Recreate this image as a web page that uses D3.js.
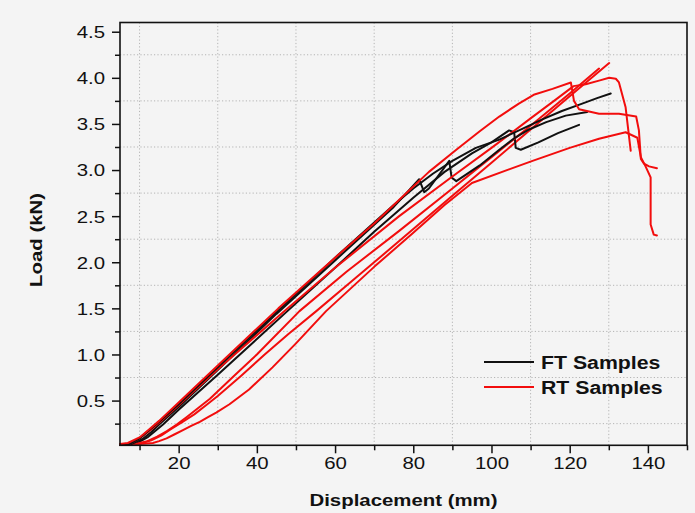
<!DOCTYPE html>
<html>
<head>
<meta charset="utf-8">
<script src="https://cdn.jsdelivr.net/npm/d3@7"></script>
<style>
  html, body { margin: 0; padding: 0; background: #f4f4f4; }
  svg { display: block; }
  text { font-family: "Liberation Sans", Arial, sans-serif; fill: #111; }
</style>
</head>
<body>
<svg id="chart" width="695" height="513"></svg>
<script>
// ---------- data (displacement mm, load kN) ----------
const ftSample1 = [[5,0.02],[7.5,0.03],[10,0.09],[12.5,0.18],[15,0.27],[20,0.46],[30,0.86],[45.3,1.47],[60,2.05],[75,2.62],[80,2.8],[85,2.96],[90,3.1],[96,3.24],[102,3.33],[108,3.45],[113,3.55],[118,3.64],[123.2,3.72],[127,3.78],[130.5,3.83]];
const ftSample2 = [[5,0.02],[8,0.03],[11,0.09],[13,0.16],[15,0.24],[20,0.43],[30,0.83],[45,1.44],[60,2.02],[75,2.6],[81.5,2.9],[82.8,2.76],[84,2.8],[89.2,3.1],[89.8,2.92],[91,2.88],[97,3.05],[102,3.22],[106,3.35],[109.6,3.44],[114,3.52],[119,3.59],[124.5,3.63]];
const ftSample3 = [[5,0.02],[9,0.03],[12,0.1],[14,0.17],[16,0.24],[20,0.4],[30,0.78],[47.8,1.47],[60,1.94],[70,2.33],[80,2.7],[88,2.98],[95,3.18],[100,3.3],[104.5,3.43],[105.8,3.41],[106.2,3.24],[107.5,3.22],[112,3.3],[117,3.4],[122.4,3.49]];

const rtSample1 = [[5,0.02],[10,0.03],[13,0.07],[15.5,0.12],[18,0.19],[21,0.27],[24,0.35],[27,0.45],[30,0.55],[36,0.77],[42,1.0],[48,1.22],[55.2,1.47],[65,1.82],[76.4,2.23],[90,2.72],[100,3.08],[110,3.44],[120,3.8],[130.1,4.16]];
const rtSample2 = [[5,0.02],[9,0.03],[12,0.06],[14.5,0.11],[17,0.17],[19.5,0.24],[22,0.32],[25,0.42],[28,0.52],[34,0.76],[40,1.0],[50.9,1.47],[63,1.9],[76.4,2.34],[90,2.8],[100,3.14],[110,3.48],[120,3.83],[127.5,4.1]];
const rtSample3 = [[5,0.02],[7.5,0.03],[10,0.09],[12.5,0.17],[15,0.26],[20,0.45],[30,0.84],[47,1.47],[60,1.94],[76.4,2.5],[90,2.93],[100,3.24],[110,3.56],[116,3.75],[121,3.91],[124.1,3.93],[127.5,3.97],[130.1,4.0],[131.8,3.99],[132.6,3.95],[134.3,3.68],[135.6,3.21]];
const rtSample4 = [[5,0.03],[7,0.04],[10,0.1],[12.5,0.19],[15,0.28],[20,0.48],[30,0.88],[45.5,1.5],[60,2.05],[70,2.42],[79,2.78],[84,2.98],[91,3.22],[97,3.42],[102,3.58],[107,3.72],[111,3.82],[115.6,3.88],[120.3,3.95],[121.1,3.75],[122.4,3.66],[127.5,3.61],[132.6,3.61],[137,3.58],[137.7,3.43],[138.2,3.12],[139,3.07],[140.3,3.04],[142.3,3.02]];
const rtSample5 = [[5,0.02],[10,0.03],[13.4,0.04],[15,0.06],[16.9,0.09],[19,0.135],[21.1,0.18],[23.2,0.225],[25.4,0.27],[27.5,0.32],[29.6,0.37],[33,0.46],[38,0.62],[44,0.86],[50,1.12],[57.7,1.47],[70,1.95],[80,2.32],[88,2.62],[95,2.86],[110.5,3.1],[120,3.24],[127.5,3.34],[134.3,3.41],[137.3,3.35],[138.2,3.14],[139.4,3.04],[140.7,2.92],[140.7,2.41],[141.5,2.3],[142.3,2.29]];

const xMajorTicks = [20, 40, 60, 80, 100, 120, 140];
const xMinorTicks = [10, 30, 50, 70, 90, 110, 130, 150];
const yMajorTicks = [0.5, 1.0, 1.5, 2.0, 2.5, 3.0, 3.5, 4.0, 4.5];
const yMinorTicks = [0.25, 0.75, 1.25, 1.75, 2.25, 2.75, 3.25, 3.75, 4.25];
const legendLabels = ["FT Samples", "RT Samples"];
const xTitle = "Displacement (mm)";
const yTitle = "Load (kN)";

// ---------- layout ----------
const svg = d3.select("#chart");
const L = 120, R = 687, T = 22.5, B = 445.3;
const x = d3.scaleLinear().domain([5, 150]).range([L, R]);
const y = d3.scaleLinear().domain([0.015, 4.6]).range([B, T]);
const SX = 1.2; // horizontal stretch of the original lettering

svg.append("rect").attr("width", 695).attr("height", 513).attr("fill", "#f4f4f4");

// grid (at minor positions, dotted)
const grid = svg.append("g").attr("stroke", "#b4b4b4").attr("stroke-width", 1).attr("stroke-dasharray", "1.2,2.2");
grid.selectAll("line.gx").data(xMinorTicks.filter(d => d < 150)).join("line")
  .attr("x1", d => x(d)).attr("x2", d => x(d)).attr("y1", T).attr("y2", B);
grid.selectAll("line.gy").data(yMinorTicks).join("line")
  .attr("y1", d => y(d)).attr("y2", d => y(d)).attr("x1", L).attr("x2", R);

// curves
const line = d3.line().x(d => x(d[0])).y(d => y(d[1]));
const series = [
  {d: rtSample5, c: "#f20d0d"}, {d: rtSample1, c: "#f20d0d"},
  {d: ftSample3, c: "#111"}, {d: rtSample2, c: "#f20d0d"},
  {d: ftSample2, c: "#111"}, {d: rtSample3, c: "#f20d0d"},
  {d: ftSample1, c: "#111"}, {d: rtSample4, c: "#f20d0d"}
];
svg.append("g").selectAll("path").data(series).join("path")
  .attr("d", s => line(s.d)).attr("fill", "none").attr("stroke", s => s.c)
  .attr("stroke-width", 2).attr("stroke-linejoin", "round").attr("stroke-linecap", "round");

// axes
const xAxis = svg.append("g").attr("transform", `translate(0,${B})`)
  .call(d3.axisBottom(x).tickValues(xMajorTicks).tickSize(8).tickFormat(d3.format("d")));
svg.append("g").attr("transform", `translate(0,${B})`)
  .call(d3.axisBottom(x).tickValues(xMinorTicks).tickSize(5).tickFormat(""))
  .call(g => g.select(".domain").remove());
const yAxis = svg.append("g").attr("transform", `translate(${L},0)`)
  .call(d3.axisLeft(y).tickValues(yMajorTicks).tickSize(8).tickFormat(d3.format(".1f")));
svg.append("g").attr("transform", `translate(${L},0)`)
  .call(d3.axisLeft(y).tickValues(yMinorTicks).tickSize(5).tickFormat(""))
  .call(g => g.select(".domain").remove());

svg.selectAll(".tick line").attr("stroke", "#111").attr("stroke-width", 1.5);
svg.selectAll(".domain").remove();
xAxis.selectAll("text").attr("font-size", 17).attr("y", 12).attr("dy", "0.71em")
  .attr("transform", `scale(${SX},1)`).attr("font-family", "Liberation Sans, Arial, sans-serif").attr("fill", "#111");
yAxis.selectAll("text").attr("font-size", 17).attr("x", -15 / SX).attr("dy", "0.35em")
  .attr("transform", `scale(${SX},1)`).attr("font-family", "Liberation Sans, Arial, sans-serif").attr("fill", "#111");

// frame
svg.append("rect").attr("x", L).attr("y", T).attr("width", R - L).attr("height", B - T)
  .attr("fill", "none").attr("stroke", "#111").attr("stroke-width", 1.6);

// axis titles
svg.append("text").attr("transform", `translate(${(L + R) / 2},506) scale(${SX},1)`)
  .attr("text-anchor", "middle").attr("font-size", 17).attr("font-weight", "bold").text(xTitle);
svg.append("text").attr("transform", `translate(42,${(T + B) / 2 + 6}) rotate(-90) scale(${SX},1)`)
  .attr("text-anchor", "middle").attr("font-size", 17).attr("font-weight", "bold").text(yTitle);

// legend
const legColors = ["#111", "#f20d0d"];
const leg = svg.append("g");
legendLabels.forEach((lab, i) => {
  const yy = 362 + i * 25;
  leg.append("line").attr("x1", 484).attr("x2", 534).attr("y1", yy).attr("y2", yy)
    .attr("stroke", legColors[i]).attr("stroke-width", 2);
  leg.append("text").attr("transform", `translate(541,${yy + 6.5}) scale(1.15,1)`)
    .attr("font-size", 18.5).attr("font-weight", "bold").text(lab);
});
</script>
</body>
</html>
